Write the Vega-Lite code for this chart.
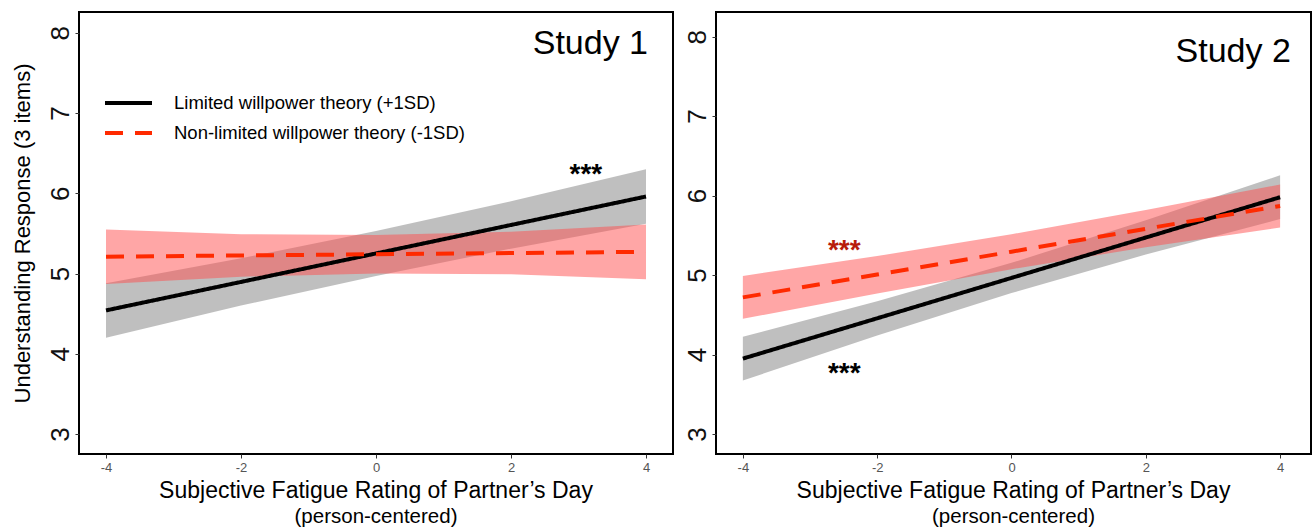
{
  "$schema": "https://vega.github.io/schema/vega-lite/v6.json",
  "background": "white",
  "padding": {"left": 10, "top": 11, "right": 0, "bottom": 0},
  "bounds": "flush",
  "spacing": 43,
  "config": {
    "font": "Liberation Sans",
    "view": {"stroke": "black", "strokeWidth": 2},
    "axis": {"grid": false, "domain": false, "tickColor": "#333333", "tickSize": 4, "tickWidth": 1}
  },
  "datasets": {
    "bands": [
      {"study": "Study 1", "group": "Limited willpower theory (+1SD)", "x": -4, "y": 4.54, "lo": 4.20, "hi": 4.88},
      {"study": "Study 1", "group": "Limited willpower theory (+1SD)", "x": -2, "y": 4.895, "lo": 4.60, "hi": 5.19},
      {"study": "Study 1", "group": "Limited willpower theory (+1SD)", "x": 0, "y": 5.25, "lo": 4.97, "hi": 5.53},
      {"study": "Study 1", "group": "Limited willpower theory (+1SD)", "x": 2, "y": 5.605, "lo": 5.31, "hi": 5.90},
      {"study": "Study 1", "group": "Limited willpower theory (+1SD)", "x": 4, "y": 5.96, "lo": 5.62, "hi": 6.30},
      {"study": "Study 1", "group": "Non-limited willpower theory (-1SD)", "x": -4, "y": 5.21, "lo": 4.87, "hi": 5.55},
      {"study": "Study 1", "group": "Non-limited willpower theory (-1SD)", "x": -2, "y": 5.225, "lo": 4.96, "hi": 5.49},
      {"study": "Study 1", "group": "Non-limited willpower theory (-1SD)", "x": 0, "y": 5.24, "lo": 5.00, "hi": 5.48},
      {"study": "Study 1", "group": "Non-limited willpower theory (-1SD)", "x": 2, "y": 5.255, "lo": 4.99, "hi": 5.52},
      {"study": "Study 1", "group": "Non-limited willpower theory (-1SD)", "x": 4, "y": 5.27, "lo": 4.93, "hi": 5.61},
      {"study": "Study 2", "group": "Limited willpower theory (+1SD)", "x": -4, "y": 3.95, "lo": 3.675, "hi": 4.225},
      {"study": "Study 2", "group": "Limited willpower theory (+1SD)", "x": -2, "y": 4.457, "lo": 4.24, "hi": 4.67},
      {"study": "Study 2", "group": "Limited willpower theory (+1SD)", "x": 0, "y": 4.965, "lo": 4.775, "hi": 5.155},
      {"study": "Study 2", "group": "Limited willpower theory (+1SD)", "x": 2, "y": 5.473, "lo": 5.26, "hi": 5.69},
      {"study": "Study 2", "group": "Limited willpower theory (+1SD)", "x": 4, "y": 5.98, "lo": 5.705, "hi": 6.255},
      {"study": "Study 2", "group": "Non-limited willpower theory (-1SD)", "x": -4, "y": 4.72, "lo": 4.45, "hi": 4.99},
      {"study": "Study 2", "group": "Non-limited willpower theory (-1SD)", "x": -2, "y": 5.007, "lo": 4.77, "hi": 5.24},
      {"study": "Study 2", "group": "Non-limited willpower theory (-1SD)", "x": 0, "y": 5.295, "lo": 5.075, "hi": 5.515},
      {"study": "Study 2", "group": "Non-limited willpower theory (-1SD)", "x": 2, "y": 5.583, "lo": 5.35, "hi": 5.82},
      {"study": "Study 2", "group": "Non-limited willpower theory (-1SD)", "x": 4, "y": 5.87, "lo": 5.60, "hi": 6.14}
    ],
    "notes": [
      {"study": "Study 1", "kind": "panel", "label": "Study 1", "x": 4.03, "y": 7.74},
      {"study": "Study 1", "kind": "sigLimited", "label": "***", "x": 3.11, "y": 6.13},
      {"study": "Study 2", "kind": "panel", "label": "Study 2", "x": 4.16, "y": 7.68},
      {"study": "Study 2", "kind": "sigNon", "label": "***", "x": -2.49, "y": 5.2},
      {"study": "Study 2", "kind": "sigLimited", "label": "***", "x": -2.49, "y": 3.65}
    ]
  },
  "resolve": {
    "scale": {"color": "independent", "strokeDash": "independent", "x": "independent", "y": "independent"},
    "legend": {"color": "independent", "strokeDash": "independent"}
  },
  "hconcat": [
    {
      "width": 594,
      "height": 442,
      "title": {"text": "Subjective Fatigue Rating of Partner’s Day", "subtitle": "(person-centered)", "orient": "bottom", "anchor": "middle", "fontSize": 23, "fontWeight": "normal", "subtitleFontSize": 20.5, "offset": 6, "subtitlePadding": 4, "color": "black", "subtitleColor": "black"},
      "layer": [
        {
          "data": {"name": "bands"},
          "transform": [{"filter": "datum.study == 'Study 1' && datum.group == 'Limited willpower theory (+1SD)'"}],
          "mark": {"type": "area", "opacity": 0.5, "color": "#808080"},
          "encoding": {
            "x": {"field": "x", "type": "quantitative", "scale": {"domain": [-4.4, 4.4], "nice": false, "zero": false}, "axis": {"values": [-4, -2, 0, 2, 4], "labelExpr": "datum.value", "title": null, "labelFontSize": 13, "labelColor": "#555555", "labelPadding": 3}},
            "y": {"field": "lo", "type": "quantitative", "scale": {"domain": [2.75, 8.26], "nice": false, "zero": false}, "axis": {"values": [3, 4, 5, 6, 7, 8], "labelExpr": "datum.value", "labelAngle": -90, "labelAlign": "center", "labelBaseline": "bottom", "labelFontSize": 26, "labelColor": "#111111", "labelPadding": 2, "title": "Understanding Response (3 items)", "titleFontSize": 22, "titleFontWeight": "normal", "titleColor": "black", "titlePadding": 13}},
            "y2": {"field": "hi"}
          }
        },
        {
          "data": {"name": "bands"},
          "transform": [{"filter": "datum.study == 'Study 1' && datum.group == 'Non-limited willpower theory (-1SD)'"}],
          "mark": {"type": "area", "opacity": 0.5, "color": "#FF4D4D"},
          "encoding": {
            "x": {"field": "x", "type": "quantitative"},
            "y": {"field": "lo", "type": "quantitative"},
            "y2": {"field": "hi"}
          }
        },
        {
          "data": {"name": "bands"},
          "transform": [{"filter": "datum.study == 'Study 1'"}],
          "mark": {"type": "line", "strokeWidth": 4},
          "encoding": {
            "x": {"field": "x", "type": "quantitative"},
            "y": {"field": "y", "type": "quantitative"},
            "color": {"field": "group", "type": "nominal", "scale": {"domain": ["Limited willpower theory (+1SD)", "Non-limited willpower theory (-1SD)"], "range": ["black", "#FF2A00"]}, "legend": {"title": null, "orient": "none", "legendX": 24, "legendY": 76, "symbolType": "stroke", "symbolSize": 2209, "symbolStrokeWidth": 4, "labelFontSize": 18.5, "labelColor": "black", "labelOffset": 20, "labelLimit": 0, "clipHeight": 30, "rowPadding": 0}},
            "strokeDash": {"field": "group", "type": "nominal", "scale": {"domain": ["Limited willpower theory (+1SD)", "Non-limited willpower theory (-1SD)"], "range": [[1, 0], [18, 12]]}, "legend": {"title": null, "orient": "none", "legendX": 24, "legendY": 76, "symbolType": "stroke", "symbolSize": 2209, "symbolStrokeWidth": 4, "labelFontSize": 18.5, "labelColor": "black", "labelOffset": 20, "labelLimit": 0, "clipHeight": 30, "rowPadding": 0}}
          }
        },
        {
          "data": {"name": "notes"},
          "transform": [{"filter": "datum.study == 'Study 1' && datum.kind == 'panel'"}],
          "mark": {"type": "text", "fontSize": 34, "align": "right", "baseline": "alphabetic", "color": "black"},
          "encoding": {"x": {"field": "x", "type": "quantitative"}, "y": {"field": "y", "type": "quantitative"}, "text": {"field": "label"}}
        },
        {
          "data": {"name": "notes"},
          "transform": [{"filter": "datum.study == 'Study 1' && datum.kind == 'sigLimited'"}],
          "mark": {"type": "text", "fontSize": 28, "fontWeight": "bold", "align": "center", "baseline": "alphabetic", "color": "black"},
          "encoding": {"x": {"field": "x", "type": "quantitative"}, "y": {"field": "y", "type": "quantitative"}, "text": {"field": "label"}}
        }
      ]
    },
    {
      "width": 595,
      "height": 442,
      "title": {"text": "Subjective Fatigue Rating of Partner’s Day", "subtitle": "(person-centered)", "orient": "bottom", "anchor": "middle", "fontSize": 23, "fontWeight": "normal", "subtitleFontSize": 20.5, "offset": 6, "subtitlePadding": 4, "color": "black", "subtitleColor": "black"},
      "layer": [
        {
          "data": {"name": "bands"},
          "transform": [{"filter": "datum.study == 'Study 2' && datum.group == 'Limited willpower theory (+1SD)'"}],
          "mark": {"type": "area", "opacity": 0.5, "color": "#808080"},
          "encoding": {
            "x": {"field": "x", "type": "quantitative", "scale": {"domain": [-4.4, 4.46], "nice": false, "zero": false}, "axis": {"values": [-4, -2, 0, 2, 4], "labelExpr": "datum.value", "title": null, "labelFontSize": 13, "labelColor": "#555555", "labelPadding": 3}},
            "y": {"field": "lo", "type": "quantitative", "scale": {"domain": [2.75, 8.31], "nice": false, "zero": false}, "axis": {"values": [3, 4, 5, 6, 7, 8], "labelExpr": "datum.value", "labelAngle": -90, "labelAlign": "center", "labelBaseline": "bottom", "labelFontSize": 26, "labelColor": "#111111", "labelPadding": 2, "title": null}},
            "y2": {"field": "hi"}
          }
        },
        {
          "data": {"name": "bands"},
          "transform": [{"filter": "datum.study == 'Study 2' && datum.group == 'Non-limited willpower theory (-1SD)'"}],
          "mark": {"type": "area", "opacity": 0.5, "color": "#FF4D4D"},
          "encoding": {
            "x": {"field": "x", "type": "quantitative"},
            "y": {"field": "lo", "type": "quantitative"},
            "y2": {"field": "hi"}
          }
        },
        {
          "data": {"name": "bands"},
          "transform": [{"filter": "datum.study == 'Study 2'"}],
          "mark": {"type": "line", "strokeWidth": 4},
          "encoding": {
            "x": {"field": "x", "type": "quantitative"},
            "y": {"field": "y", "type": "quantitative"},
            "color": {"field": "group", "type": "nominal", "scale": {"domain": ["Limited willpower theory (+1SD)", "Non-limited willpower theory (-1SD)"], "range": ["black", "#FF2A00"]}, "legend": null},
            "strokeDash": {"field": "group", "type": "nominal", "scale": {"domain": ["Limited willpower theory (+1SD)", "Non-limited willpower theory (-1SD)"], "range": [[1, 0], [18, 12]]}, "legend": null}
          }
        },
        {
          "data": {"name": "notes"},
          "transform": [{"filter": "datum.study == 'Study 2' && datum.kind == 'panel'"}],
          "mark": {"type": "text", "fontSize": 34, "align": "right", "baseline": "alphabetic", "color": "black"},
          "encoding": {"x": {"field": "x", "type": "quantitative"}, "y": {"field": "y", "type": "quantitative"}, "text": {"field": "label"}}
        },
        {
          "data": {"name": "notes"},
          "transform": [{"filter": "datum.study == 'Study 2' && datum.kind == 'sigLimited'"}],
          "mark": {"type": "text", "fontSize": 28, "fontWeight": "bold", "align": "center", "baseline": "alphabetic", "color": "black"},
          "encoding": {"x": {"field": "x", "type": "quantitative"}, "y": {"field": "y", "type": "quantitative"}, "text": {"field": "label"}}
        },
        {
          "data": {"name": "notes"},
          "transform": [{"filter": "datum.study == 'Study 2' && datum.kind == 'sigNon'"}],
          "mark": {"type": "text", "fontSize": 28, "fontWeight": "bold", "align": "center", "baseline": "alphabetic", "color": "#B81C0C"},
          "encoding": {"x": {"field": "x", "type": "quantitative"}, "y": {"field": "y", "type": "quantitative"}, "text": {"field": "label"}}
        }
      ]
    }
  ]
}
